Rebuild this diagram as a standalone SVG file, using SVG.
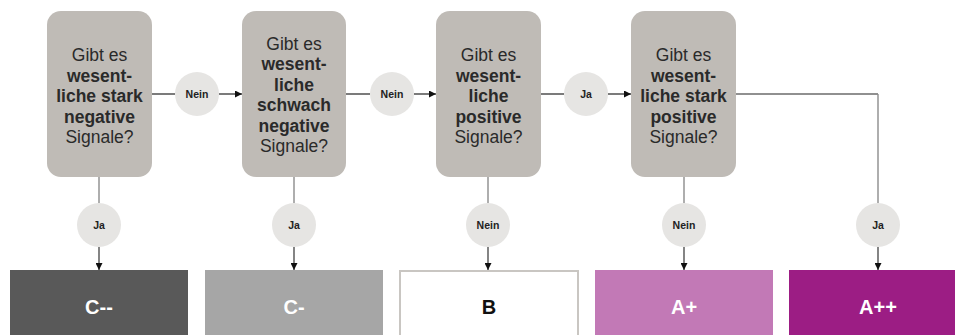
<svg xmlns="http://www.w3.org/2000/svg" width="955" height="335" viewBox="0 0 955 335">
<defs>
<marker id="ah" viewBox="0 0 10 10" refX="10" refY="5" markerWidth="7" markerHeight="7" markerUnits="userSpaceOnUse" orient="auto">
<path d="M0,0 L10,5 L0,10 Z" fill="#111"/>
</marker>
<style>
.q{fill:#bfbbb6}
.qt{font-family:"Liberation Sans",Arial,sans-serif;font-size:17.5px;fill:#2a2a2a;text-anchor:middle}
.b{font-weight:bold}
.c{fill:#e6e5e3}
.ct{font-family:"Liberation Sans",Arial,sans-serif;font-size:10.5px;font-weight:bold;fill:#222;text-anchor:middle}
.rt{font-family:"Liberation Sans",Arial,sans-serif;font-size:20px;font-weight:bold;text-anchor:middle}
.h{stroke:#222;stroke-width:1.2;fill:none}
.v{stroke:#8c8c8c;stroke-width:1.4;fill:none}
.d{stroke:#333;stroke-width:1.2;fill:none}
</style>
</defs>
<rect width="955" height="335" fill="#fff"/>

<g id="connectors">
<line class="h" x1="152" y1="94" x2="175" y2="94"/>
<line class="h" x1="219" y1="94" x2="242" y2="94" marker-end="url(#ah)"/>
<line class="h" x1="346" y1="94" x2="370" y2="94"/>
<line class="h" x1="414" y1="94" x2="436" y2="94" marker-end="url(#ah)"/>
<line class="h" x1="541" y1="94" x2="564" y2="94"/>
<line class="h" x1="608" y1="94" x2="631" y2="94" marker-end="url(#ah)"/>
<polyline class="h" points="736,94 878,94"/>
<line class="v" x1="878" y1="94" x2="878" y2="203"/>
<line class="v" x1="99" y1="177" x2="99" y2="203"/>
<line class="v" x1="294" y1="177" x2="294" y2="203"/>
<line class="v" x1="488" y1="177" x2="488" y2="203"/>
<line class="v" x1="684" y1="177" x2="684" y2="203"/>
<line class="d" x1="99" y1="247" x2="99" y2="270" marker-end="url(#ah)"/>
<line class="d" x1="294" y1="247" x2="294" y2="270" marker-end="url(#ah)"/>
<line class="d" x1="488" y1="247" x2="488" y2="270" marker-end="url(#ah)"/>
<line class="d" x1="684" y1="247" x2="684" y2="270" marker-end="url(#ah)"/>
<line class="d" x1="878" y1="247" x2="878" y2="270" marker-end="url(#ah)"/>
</g>

<g id="q1">
<rect class="q" x="47" y="11" width="105" height="166" rx="14"/>
<text class="qt"><tspan x="99.5" y="61">Gibt es</tspan><tspan class="b" x="99.5" y="81.5">wesent-</tspan><tspan class="b" x="99.5" y="102">liche stark</tspan><tspan class="b" x="99.5" y="122.5">negative</tspan><tspan x="99.5" y="143">Signale?</tspan></text>
</g>
<g id="q2">
<rect class="q" x="242" y="11" width="104" height="166" rx="14"/>
<text class="qt"><tspan x="294" y="49.5">Gibt es</tspan><tspan class="b" x="294" y="70">wesent-</tspan><tspan class="b" x="294" y="90.6">liche</tspan><tspan class="b" x="294" y="111.2">schwach</tspan><tspan class="b" x="294" y="131.8">negative</tspan><tspan x="294" y="152.4">Signale?</tspan></text>
</g>
<g id="q3">
<rect class="q" x="436" y="11" width="105" height="166" rx="14"/>
<text class="qt"><tspan x="488.5" y="61">Gibt es</tspan><tspan class="b" x="488.5" y="81.5">wesent-</tspan><tspan class="b" x="488.5" y="102">liche</tspan><tspan class="b" x="488.5" y="122.5">positive</tspan><tspan x="488.5" y="143">Signale?</tspan></text>
</g>
<g id="q4">
<rect class="q" x="631" y="11" width="105" height="166" rx="14"/>
<text class="qt"><tspan x="683.5" y="61">Gibt es</tspan><tspan class="b" x="683.5" y="81.5">wesent-</tspan><tspan class="b" x="683.5" y="102">liche stark</tspan><tspan class="b" x="683.5" y="122.5">positive</tspan><tspan x="683.5" y="143">Signale?</tspan></text>
</g>

<g id="l1"><circle class="c" cx="197" cy="94" r="22"/><text class="ct" x="197" y="97.8">Nein</text></g>
<g id="l2"><circle class="c" cx="392" cy="94" r="22"/><text class="ct" x="392" y="97.8">Nein</text></g>
<g id="l3"><circle class="c" cx="586" cy="94" r="22"/><text class="ct" x="586" y="97.8">Ja</text></g>
<g id="l4"><circle class="c" cx="99" cy="225" r="22"/><text class="ct" x="99" y="228.8">Ja</text></g>
<g id="l5"><circle class="c" cx="294" cy="225" r="22"/><text class="ct" x="294" y="228.8">Ja</text></g>
<g id="l6"><circle class="c" cx="488" cy="225" r="22"/><text class="ct" x="488" y="228.8">Nein</text></g>
<g id="l7"><circle class="c" cx="684" cy="225" r="22"/><text class="ct" x="684" y="228.8">Nein</text></g>
<g id="l8"><circle class="c" cx="878" cy="225" r="22"/><text class="ct" x="878" y="228.8">Ja</text></g>

<g id="r1"><rect x="10" y="270" width="178" height="70" fill="#595959"/><text class="rt" x="99" y="314" fill="#fff">C--</text></g>
<g id="r2"><rect x="205" y="270" width="178" height="70" fill="#a6a6a6"/><text class="rt" x="294" y="314" fill="#fff">C-</text></g>
<g id="r3"><rect x="400" y="271" width="178" height="70" fill="#fff" stroke="#c9c6c2" stroke-width="2"/><text class="rt" x="489" y="314" fill="#111">B</text></g>
<g id="r4"><rect x="595" y="270" width="178" height="70" fill="#c279b6"/><text class="rt" x="684" y="314" fill="#fff">A+</text></g>
<g id="r5"><rect x="789" y="270" width="178" height="70" fill="#9c1d84"/><text class="rt" x="878" y="314" fill="#fff">A++</text></g>
</svg>
